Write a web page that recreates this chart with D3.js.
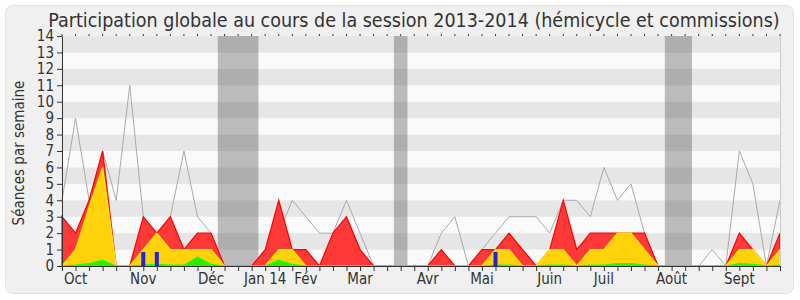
<!DOCTYPE html>
<html>
<head>
<meta charset="utf-8">
<script src="https://cdn.jsdelivr.net/npm/d3@7"></script>
<style>
    body { margin: 0; background: #fff; }
    #chart-area { width: 800px; height: 300px; }
    text { font-family: "DejaVu Sans Condensed", "DejaVu Sans", sans-serif; font-stretch: condensed; fill: #333; }
</style>
</head>
<body>
<div id="chart-area"></div>
<script>
/*
Participation globale d'un député, session 2013-2014
one point per week, areas overlaid (not stacked)
*/

// weekly values, week 0 = end of Sept 2013
let presences   = [3, 2, 4, 7, 0, 0, 3, 2, 3, 1, 2, 2, 0, 0, 0, 1, 4, 1, 1, 0, 2, 3, 1, 0, 0, 0, 0, 0, 1, 0, 0, 1, 1, 2, 1, 0, 1, 4, 1, 2, 2, 2, 2, 2, 0, 0, 0, 0, 0, 0, 2, 1, 0, 2];
let participations = [0, 1, 3.6, 6, 0, 0, 1, 2, 1, 1, 1, 1, 0, 0, 0, 0, 1, 1, 0, 0, 0, 0, 0, 0, 0, 0, 0, 0, 0, 0, 0, 0, 1, 1, 0, 0, 1, 1, 0, 1, 1, 2, 2, 1, 0, 0, 0, 0, 0, 0, 1, 1, 0, 1];
let interventions = [0, 0.05, 0.15, 0.35, 0, 0, 0.05, 0.1, 0.05, 0.05, 0.55, 0.1, 0, 0, 0, 0, 0.35, 0.1, 0, 0, 0, 0, 0, 0, 0, 0, 0, 0, 0, 0, 0, 0, 0.05, 0.05, 0, 0, 0.05, 0.05, 0, 0.05, 0.05, 0.15, 0.15, 0.05, 0, 0, 0, 0, 0, 0, 0.15, 0.1, 0, 0.05];
let mediane     = [4, 9, 4, 7, 4, 11, 3, 2, 3, 7, 3, 2, 0, 0, 0, 0, 2, 4, 3, 2, 2, 4, 2, 0, 0, 0, 0, 0, 2, 3, 0, 1, 2, 3, 3, 3, 2, 4, 4, 3, 6, 4, 5, 2, 0, 0, 0, 0, 1, 0, 7, 5, 0, 4];

// questions orales (week index, value)
let questionWeeks = [6, 7, 32];
let questionValues = [0.85, 0.85, 0.85];

// parliamentary holidays, in week units
let vacStart = [11.5, 24.5, 44.5];
let vacEnd   = [14.5, 25.5, 46.5];

let monthLabels = ["Oct", "Nov", "Déc", "Jan 14", "Fév", "Mar", "Avr", "Mai", "Juin", "Juil", "Août", "Sept"];
let monthWeeks  = [1, 6, 11, 15, 18, 22, 27, 31, 36, 40, 45, 50];

let yTicks = d3.range(0, 15);

class ParticipationVis {

    constructor(parentElement) {
        this.parentElement = parentElement;
        this.initVis();
    }

    initVis() {
        let vis = this;

        vis.margin = {top: 36, right: 20, bottom: 34, left: 62};
        vis.fullWidth = 800;
        vis.fullHeight = 300;
        vis.width = vis.fullWidth - vis.margin.left - vis.margin.right;
        vis.height = vis.fullHeight - vis.margin.top - vis.margin.bottom;

        vis.svg = d3.select("#" + vis.parentElement).append("svg")
            .attr("width", vis.fullWidth)
            .attr("height", vis.fullHeight);

        // frame
        vis.svg.append("rect")
            .attr("x", 5.5).attr("y", 5.5)
            .attr("width", 788).attr("height", 288)
            .attr("rx", 7)
            .attr("fill", "#f0f0f0")
            .attr("stroke", "#e2e2e2");

        vis.svg.append("text")
            .attr("x", 414)
            .attr("y", 27)
            .attr("text-anchor", "middle")
            .style("font-size", "19.5px")
            .text("Participation globale au cours de la session 2013-2014 (hémicycle et commissions)");

        vis.svg.append("text")
            .attr("transform", `translate(24, ${vis.margin.top + vis.height / 2 + 2}) rotate(-90)`)
            .attr("text-anchor", "middle")
            .style("font-size", "15px")
            .text("Séances par semaine");

        vis.g = vis.svg.append("g")
            .attr("transform", `translate(${vis.margin.left}, ${vis.margin.top})`);

        vis.x = d3.scaleLinear().domain([0, presences.length - 1]).range([0, vis.width]);
        vis.y = d3.scaleLinear().domain([0, 14]).range([vis.height, 0]);

        vis.updateVis();
    }

    updateVis() {
        let vis = this;
        let weeks = d3.range(presences.length);

        // horizontal bands
        vis.g.selectAll(".band")
            .data(d3.range(0, 14))
            .enter().append("rect")
            .attr("class", "band")
            .attr("x", 0)
            .attr("width", vis.width)
            .attr("y", d => vis.y(d + 1))
            .attr("height", d => vis.y(d) - vis.y(d + 1))
            .attr("fill", d => d % 2 ? "#e6e6e6" : "#fafafa");

        // holidays
        vis.g.selectAll(".vac")
            .data(vacStart)
            .enter().append("rect")
            .attr("class", "vac")
            .attr("x", d => vis.x(d))
            .attr("width", (d, i) => vis.x(vacEnd[i]) - vis.x(d))
            .attr("y", 0)
            .attr("height", vis.height)
            .attr("fill", "rgba(70,70,70,0.35)");

        // median line, under the areas
        vis.g.append("path")
            .datum(weeks)
            .attr("fill", "none")
            .attr("stroke", "#aaa")
            .attr("stroke-width", 1)
            .attr("d", d3.line().x(d => vis.x(d)).y(d => vis.y(mediane[d])));

        let drawArea = (values, fill, stroke) => {
            vis.g.append("path")
                .datum(weeks)
                .attr("fill", fill)
                .attr("stroke", stroke)
                .attr("stroke-width", 1.2)
                .attr("d", d3.area().x(d => vis.x(d)).y0(vis.y(0)).y1(d => vis.y(values[d])));
        };
        drawArea(presences, "#ff3838", "#ff0000");
        drawArea(participations, "#ffd20c", "#ffee00");
        drawArea(interventions, "#33e800", "#22ff00");

        // questions orales
        vis.g.selectAll(".question")
            .data(questionWeeks)
            .enter().append("rect")
            .attr("class", "question")
            .attr("x", d => vis.x(d) - 2)
            .attr("width", 4)
            .attr("y", (d, i) => vis.y(questionValues[i]))
            .attr("height", (d, i) => vis.y(0) - vis.y(questionValues[i]))
            .attr("fill", "#2222dd");

        // right border
        vis.g.append("line")
            .attr("x1", vis.width + 0.5).attr("x2", vis.width + 0.5)
            .attr("y1", 0).attr("y2", vis.height)
            .attr("stroke", "#ccc");

        // y axis
        let yAxis = d3.axisLeft(vis.y).tickValues(yTicks).tickSize(5).tickSizeOuter(0);
        let yG = vis.g.append("g").call(yAxis);
        yG.selectAll("text").style("font-size", "15px").attr("x", -8);

        // x axis: week ticks, month labels
        let xAxis = d3.axisBottom(vis.x).tickValues(weeks).tickSize(5).tickSizeOuter(0).tickFormat("");
        vis.g.append("g").attr("transform", `translate(0, ${vis.height})`).call(xAxis);

        vis.g.selectAll(".month")
            .data(monthWeeks)
            .enter().append("text")
            .attr("class", "month")
            .attr("x", d => vis.x(d))
            .attr("y", vis.height + 18)
            .attr("text-anchor", "middle")
            .style("font-size", "15px")
            .text((d, i) => monthLabels[i]);

        // small dots on top
        vis.g.selectAll(".top-tick")
            .data(weeks)
            .enter().append("line")
            .attr("class", "top-tick")
            .attr("x1", d => vis.x(d)).attr("x2", d => vis.x(d))
            .attr("y1", -2).attr("y2", 0)
            .attr("stroke", "#333");

        vis.g.selectAll(".domain").attr("stroke", "#333");
        vis.g.selectAll(".tick line").attr("stroke", "#333");
    }
}

new ParticipationVis("chart-area");
</script>
</body>
</html>
